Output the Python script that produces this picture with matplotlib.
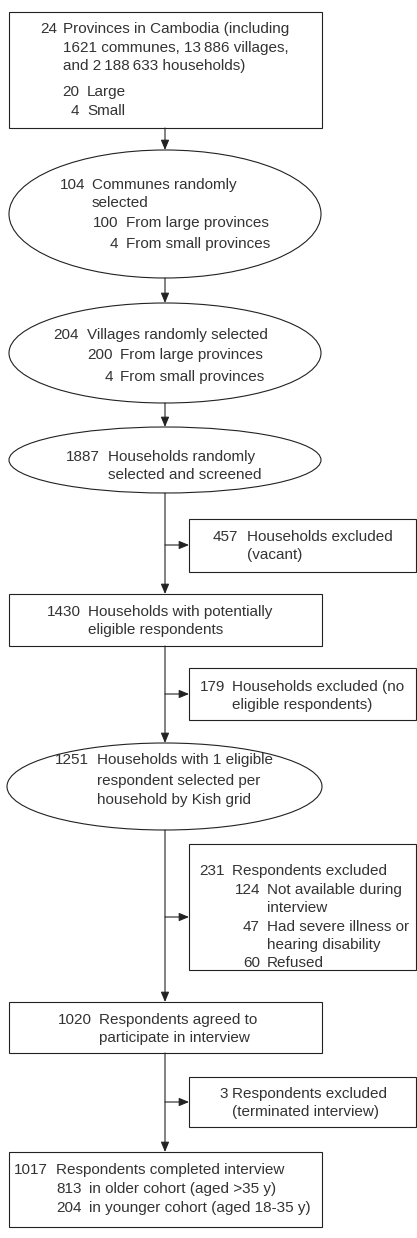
import matplotlib.pyplot as plt
from matplotlib.patches import Rectangle, Ellipse

plt.rcParams['font.family'] = ['Liberation Sans', 'DejaVu Sans']

# ---- text of each node: (count, label); empty count = continuation line
provinces = [("24", "Provinces in Cambodia (including"),
             ("", "1621 communes, 13\u2009886 villages,"),
             ("", "and 2\u2009188\u2009633 households)"),
             ("20", "Large"),
             ("4", "Small")]
communes = [("104", "Communes randomly"),
            ("", "selected"),
            ("100", "From large provinces"),
            ("4", "From small provinces")]
villages = [("204", "Villages randomly selected"),
            ("200", "From large provinces"),
            ("4", "From small provinces")]
screened = [("1887", "Households randomly"),
            ("", "selected and screened")]
excl_vacant = [("457", "Households excluded"),
               ("", "(vacant)")]
eligible = [("1430", "Households with potentially"),
            ("", "eligible respondents")]
excl_noelig = [("179", "Households excluded (no"),
               ("", "eligible respondents)")]
kish = [("1251", "Households with 1 eligible"),
        ("", "respondent selected per"),
        ("", "household by Kish grid")]
excl_resp = [("231", "Respondents excluded"),
             ("124", "Not available during"),
             ("", "interview"),
             ("47", "Had severe illness or"),
             ("", "hearing disability"),
             ("60", "Refused")]
agreed = [("1020", "Respondents agreed to"),
          ("", "participate in interview")]
excl_term = [("3", "Respondents excluded"),
             ("", "(terminated interview)")]
completed = [("1017", "Respondents completed interview"),
             ("813", "in older cohort (aged >35 y)"),
             ("204", "in younger cohort (aged 18-35 y)")]

# ---- layout in pixels: shape, (x0, y0, x1, y1), text anchors (num right x, text left x, y)
nodes = [
    ("rect", (9, 12, 322, 128), provinces,
     [(57, 63, 29), (57, 63, 48), (57, 63, 66), (79, 87, 92), (79, 87, 111)]),
    ("ell", (9, 150, 321, 278), communes,
     [(85, 92, 185), (85, 92, 203), (118, 126, 223), (118, 126, 244)]),
    ("ell", (9, 303, 321, 403), villages,
     [(79, 87, 335), (113, 120, 355), (113, 120, 377)]),
    ("ell", (9, 427, 321, 493), screened,
     [(100, 108, 457), (100, 108, 475)]),
    ("rect", (189, 519, 416, 572), excl_vacant,
     [(238, 247, 537), (238, 247, 555)]),
    ("rect", (9, 594, 322, 646), eligible,
     [(81, 88, 612), (81, 88, 630)]),
    ("rect", (189, 668, 416, 720), excl_noelig,
     [(225, 232, 687), (225, 232, 705)]),
    ("ell", (7, 743, 322, 830), kish,
     [(89, 97, 760), (89, 97, 781), (89, 97, 800)]),
    ("rect", (189, 844, 416, 970), excl_resp,
     [(225, 232, 871), (260, 267, 890), (260, 267, 908),
      (260, 267, 927), (260, 267, 945), (260, 267, 963)]),
    ("rect", (9, 1002, 322, 1053), agreed,
     [(92, 99, 1020), (92, 99, 1038)]),
    ("rect", (189, 1077, 416, 1127), excl_term,
     [(228, 232, 1094), (228, 232, 1112)]),
    ("rect", (9, 1152, 322, 1227), completed,
     [(48, 56, 1170), (82, 89, 1189), (82, 89, 1208)]),
]

# main vertical arrows (from y, to y) at x=165, and side arrows at y
cx = 165
down_arrows = [(128, 150), (278, 303), (403, 427), (493, 594),
               (646, 743), (830, 1002), (1053, 1152)]
side_arrows = [(545, 189), (694, 189), (917, 189), (1102, 189)]

W, H = 417, 1238
fig = plt.figure(figsize=(W / 100, H / 100), dpi=100)
ax = fig.add_axes([0, 0, 1, 1])
ax.set_xlim(0, W)
ax.set_ylim(H, 0)
ax.axis('off')

txt_color = '#333333'
fs = 11
lw = 0.8

for shape, (x0, y0, x1, y1), lines, anchors in nodes:
    if shape == "rect":
        ax.add_patch(Rectangle((x0, y0), x1 - x0, y1 - y0, fill=False,
                               edgecolor='#222222', linewidth=lw))
    else:
        ax.add_patch(Ellipse(((x0 + x1) / 2, (y0 + y1) / 2), x1 - x0, y1 - y0,
                             fill=False, edgecolor='#222222', linewidth=lw))
    for (num, label), (xn, xt, y) in zip(lines, anchors):
        if num:
            ax.text(xn, y, num, ha='right', va='center', fontsize=fs, color=txt_color)
        ax.text(xt, y, label, ha='left', va='center', fontsize=fs, color=txt_color)

arrow_kw = dict(arrowstyle='-|>,head_length=0.6,head_width=0.25', color='#222222',
                lw=lw, mutation_scale=10, shrinkA=0, shrinkB=0)
for ya, yb in down_arrows:
    ax.annotate('', xy=(cx, yb), xytext=(cx, ya), arrowprops=arrow_kw)
for y, xb in side_arrows:
    ax.annotate('', xy=(xb, y), xytext=(cx, y), arrowprops=arrow_kw)

fig.savefig('out.png', dpi=100)
